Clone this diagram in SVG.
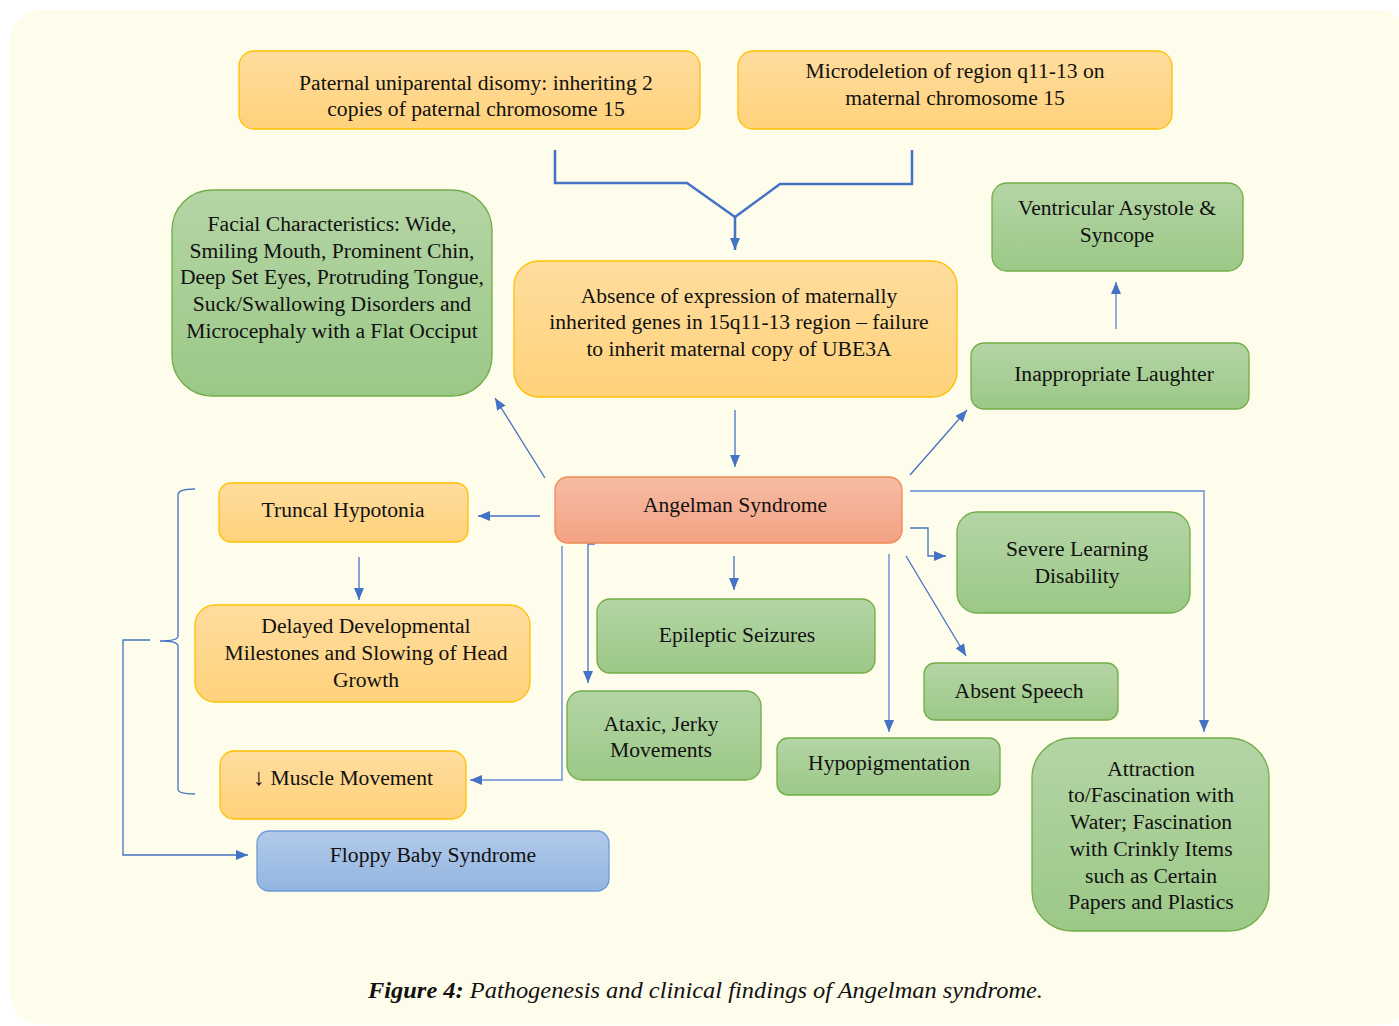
<svg xmlns="http://www.w3.org/2000/svg" width="1399" height="1026" viewBox="0 0 1399 1026">
<defs>
<linearGradient id="gO" x1="0" y1="0" x2="0" y2="1"><stop offset="0" stop-color="#FFDD9E"/><stop offset="1" stop-color="#FFD27B"/></linearGradient>
<linearGradient id="gG" x1="0" y1="0" x2="0" y2="1"><stop offset="0" stop-color="#B4D5A5"/><stop offset="1" stop-color="#9CC887"/></linearGradient>
<linearGradient id="gB" x1="0" y1="0" x2="0" y2="1"><stop offset="0" stop-color="#B1CAEA"/><stop offset="1" stop-color="#93B5E0"/></linearGradient>
<linearGradient id="gR" x1="0" y1="0" x2="0" y2="1"><stop offset="0" stop-color="#F6BCA4"/><stop offset="1" stop-color="#F4A283"/></linearGradient>
<marker id="ah" viewBox="0 0 12 10" refX="12" refY="5" markerWidth="12" markerHeight="10" markerUnits="userSpaceOnUse" orient="auto"><path d="M0,0 L12,5 L0,10 Z" fill="#4472C4"/></marker>
</defs>
<style>
.o{fill:url(#gO);stroke:#FFC000;stroke-width:1.3}
.g{fill:url(#gG);stroke:#70AD47;stroke-width:1.3}
.b{fill:url(#gB);stroke:#6F9BD6;stroke-width:1.3}
.r{fill:url(#gR);stroke:#EE8A55;stroke-width:1.3}
.t{font-family:"Liberation Serif","Times New Roman",serif;font-size:21.6px;fill:#111;text-anchor:middle}
.c{fill:none;stroke:#4472C4;stroke-width:1.3}
.ct{fill:none;stroke:#4472C4;stroke-width:2.5}
.cl{fill:none;stroke:#86A6DC;stroke-width:1.8}
.cap{font-family:"Liberation Serif","Times New Roman",serif;font-size:23px;font-style:italic;fill:#111}
</style>
<rect x="0" y="0" width="1399" height="1026" fill="#FFFFFF"/>
<rect x="10" y="10" width="1400" height="1015" rx="32" fill="#FEFCEB"/>

<g id="connectors">
<path class="ct" d="M555,150 V183 H687 L735,217 M912,150 V184 H780 L735,217"/>
<path class="ct" d="M735,217 V250" marker-end="url(#ah)"/>
<path class="c" d="M735,410 V467" marker-end="url(#ah)"/>
<path class="c" d="M545,478 L495,398" marker-end="url(#ah)"/>
<path class="c" d="M910,475 L967,410" marker-end="url(#ah)"/>
<path class="cl" d="M1116,329 V282" marker-end="url(#ah)"/>
<path class="c" d="M540,516 H478" marker-end="url(#ah)"/>
<path class="c" d="M359,557 V600" marker-end="url(#ah)"/>
<path class="c" d="M195,489 Q178,489 178,495 V636 Q178,641 160,641 Q178,641 178,646 V789 Q178,794 195,794"/>
<path class="c" d="M150,640 H123 V855 H248" marker-end="url(#ah)"/>
<path class="cl" d="M562,546 V780 H470" marker-end="url(#ah)"/>
<path class="c" d="M595,544 H588 V683" marker-end="url(#ah)"/>
<path class="c" d="M734,556 V590" marker-end="url(#ah)"/>
<path class="cl" d="M889,554 V732" marker-end="url(#ah)"/>
<path class="c" d="M910,528 H928 V556 H946" marker-end="url(#ah)"/>
<path class="c" d="M906,556 L966,656" marker-end="url(#ah)"/>
<path class="cl" d="M910,491 H1204 V732" marker-end="url(#ah)"/>
</g>

<g id="paternal"><rect class="o" x="239" y="51" width="461" height="78" rx="15"/>
<text class="t" x="476" y="90">Paternal uniparental disomy: inheriting 2</text>
<text class="t" x="476" y="116">copies of paternal chromosome 15</text></g>

<g id="microdeletion"><rect class="o" x="738" y="51" width="434" height="78" rx="15"/>
<text class="t" x="955" y="78">Microdeletion of region q11-13 on</text>
<text class="t" x="955" y="105">maternal chromosome 15</text></g>

<g id="absence"><rect class="o" x="514" y="261" width="443" height="136" rx="25"/>
<text class="t" x="739" y="303">Absence of expression of maternally</text>
<text class="t" x="739" y="329">inherited genes in 15q11-13 region – failure</text>
<text class="t" x="739" y="356">to inherit maternal copy of UBE3A</text></g>

<g id="facial"><rect class="g" x="172" y="190" width="320" height="206" rx="40"/>
<text class="t" x="332" y="231">Facial Characteristics: Wide,</text>
<text class="t" x="332" y="258">Smiling Mouth, Prominent Chin,</text>
<text class="t" x="332" y="284">Deep Set Eyes, Protruding Tongue,</text>
<text class="t" x="332" y="311">Suck/Swallowing Disorders and</text>
<text class="t" x="332" y="338">Microcephaly with a Flat Occiput</text></g>

<g id="ventricular"><rect class="g" x="992" y="183" width="251" height="88" rx="15"/>
<text class="t" x="1117" y="215">Ventricular Asystole &amp;</text>
<text class="t" x="1117" y="242">Syncope</text></g>

<g id="laughter"><rect class="g" x="971" y="343" width="278" height="66" rx="13"/>
<text class="t" x="1114" y="381">Inappropriate Laughter</text></g>

<g id="angelman"><rect class="r" x="555" y="477" width="347" height="66" rx="13"/>
<text class="t" x="735" y="512">Angelman Syndrome</text></g>

<g id="truncal"><rect class="o" x="219" y="483" width="249" height="59" rx="12"/>
<text class="t" x="343" y="517">Truncal Hypotonia</text></g>

<g id="delayed"><rect class="o" x="195" y="605" width="335" height="97" rx="20"/>
<text class="t" x="366" y="633">Delayed Developmental</text>
<text class="t" x="366" y="660">Milestones and Slowing of Head</text>
<text class="t" x="366" y="687">Growth</text></g>

<g id="muscle"><rect class="o" x="220" y="751" width="246" height="68" rx="14"/>
<text class="t" x="343" y="785"><tspan font-size="24px">↓</tspan> Muscle Movement</text></g>

<g id="floppy"><rect class="b" x="257" y="831" width="352" height="60" rx="12"/>
<text class="t" x="433" y="862">Floppy Baby Syndrome</text></g>

<g id="epileptic"><rect class="g" x="597" y="599" width="278" height="74" rx="13"/>
<text class="t" x="737" y="642">Epileptic Seizures</text></g>

<g id="ataxic"><rect class="g" x="567" y="691" width="194" height="89" rx="15"/>
<text class="t" x="661" y="731">Ataxic, Jerky</text>
<text class="t" x="661" y="757">Movements</text></g>

<g id="hypopigmentation"><rect class="g" x="777" y="738" width="223" height="57" rx="11"/>
<text class="t" x="889" y="770">Hypopigmentation</text></g>

<g id="learning"><rect class="g" x="957" y="512" width="233" height="101" rx="20"/>
<text class="t" x="1077" y="556">Severe Learning</text>
<text class="t" x="1077" y="583">Disability</text></g>

<g id="speech"><rect class="g" x="924" y="663" width="194" height="57" rx="11"/>
<text class="t" x="1019" y="698">Absent Speech</text></g>

<g id="attraction"><rect class="g" x="1032" y="738" width="237" height="193" rx="40"/>
<text class="t" x="1151" y="776">Attraction</text>
<text class="t" x="1151" y="802">to/Fascination with</text>
<text class="t" x="1151" y="829">Water; Fascination</text>
<text class="t" x="1151" y="856">with Crinkly Items</text>
<text class="t" x="1151" y="883">such as Certain</text>
<text class="t" x="1151" y="909">Papers and Plastics</text></g>

<text class="cap" x="368" y="998" textLength="675" lengthAdjust="spacingAndGlyphs"><tspan font-weight="bold">Figure 4:</tspan> Pathogenesis and clinical findings of Angelman syndrome.</text>
</svg>
